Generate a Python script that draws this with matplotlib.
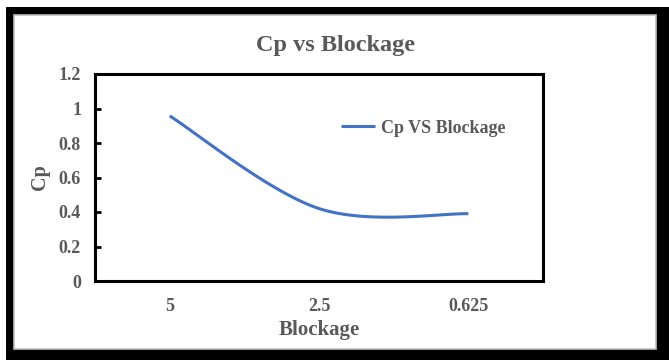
import numpy as np
import matplotlib
matplotlib.use("Agg")
import matplotlib.pyplot as plt
from matplotlib.patches import Rectangle

blockage = ["5", "2.5", "0.625"]
cp = [0.957, 0.42, 0.39]

GRAY = "#595959"
BLUE = "#4472C4"
plt.rcParams["font.family"] = "Liberation Serif"
plt.rcParams["font.weight"] = "bold"


def smooth(xs, ys, n=60):
    # spreadsheet-style bezier smoothing through every point
    p = np.column_stack([xs, ys]).astype(float)
    pad = np.vstack([p[0], p, p[-1]])
    out = []
    for i in range(len(p) - 1):
        p0, p3 = p[i], p[i + 1]
        c1 = p0 + (pad[i + 2] - pad[i]) / 6
        c2 = p3 - (pad[i + 3] - pad[i + 1]) / 6
        t = np.linspace(0, 1, n)[:, None]
        out.append((1 - t) ** 3 * p0 + 3 * (1 - t) ** 2 * t * c1
                   + 3 * (1 - t) * t ** 2 * c2 + t ** 3 * p3)
    seg = np.vstack(out)
    return seg[:, 0], seg[:, 1]


W, H = 669, 360
fig = plt.figure(figsize=(W / 100, H / 100), dpi=100)

# black frame and chart area
fig.patches.append(Rectangle((6 / W, 0), 1, 1 - 7 / H, transform=fig.transFigure,
                             facecolor="black", edgecolor="none", zorder=0))
fig.patches.append(Rectangle((14 / W, 1 - 349 / H), (656 - 14) / W, (349 - 15) / H,
                             transform=fig.transFigure, facecolor="white",
                             edgecolor="#bfbfbf", linewidth=1.2, zorder=1))

ax = fig.add_axes([95 / W, 1 - 281 / H, (543 - 95) / W, (281 - 74) / H])
ax.set_facecolor("none")
ax.set_zorder(2)

x = np.arange(len(blockage))
sx, sy = smooth(x, cp)
ax.plot(sx, sy, color=BLUE, linewidth=2.2, solid_capstyle="butt", label="Cp VS Blockage")

ax.set_xlim(-0.5, len(blockage) - 0.5)
ax.set_ylim(0, 1.2)
ax.set_yticks(np.arange(0, 1.21, 0.2))
ax.set_yticklabels(["0", "0.2", "0.4", "0.6", "0.8", "1", "1.2"])
ax.set_xticks(x)
ax.set_xticklabels(blockage)

for s in ax.spines.values():
    s.set_linewidth(2.2)
    s.set_color("black")

ax.tick_params(axis="y", direction="in", length=4, width=2, pad=10,
               labelsize=13, labelcolor=GRAY)
ax.tick_params(axis="x", length=0, pad=12, labelsize=13, labelcolor=GRAY)

ax.set_xlabel("Blockage", fontsize=15, color=GRAY, fontweight="bold")
ax.xaxis.set_label_coords(0.5, -0.237)
ax.xaxis.label.set_va("center")
ax.set_ylabel("Cp", fontsize=14.5, color=GRAY, fontweight="bold")
ax.yaxis.set_label_coords(-0.122, 0.5)
ax.yaxis.label.set_va("center")

fig.text(335 / W, 1 - 46 / H, "Cp vs Blockage", ha="center", va="center",
         fontsize=17.5, color=GRAY, fontweight="bold")

leg = ax.legend(loc="center left", bbox_to_anchor=(0.549, 0.739), frameon=False,
                borderpad=0, borderaxespad=0, handlelength=1.9, handletextpad=0.3,
                prop={"size": 13, "weight": "bold"})
for t in leg.get_texts():
    t.set_color(GRAY)

fig.savefig("out.png", dpi=100, facecolor="white")
